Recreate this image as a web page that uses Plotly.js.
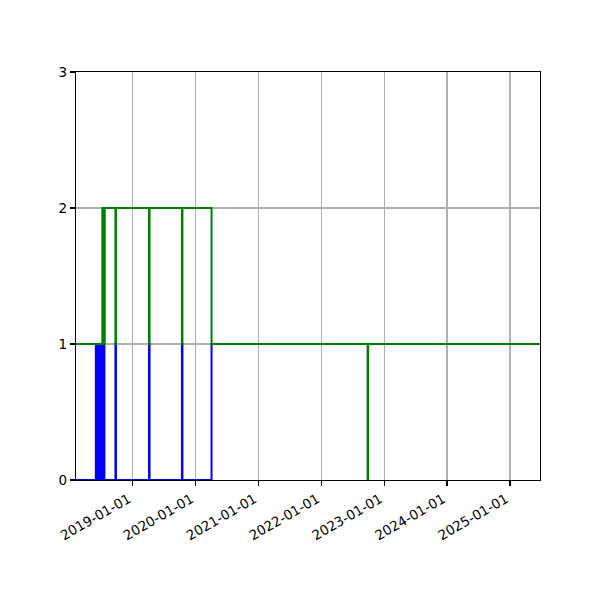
<!DOCTYPE html>
<html>
<head>
<meta charset="utf-8">
<script src="https://cdn.plot.ly/plotly-3.0.1.min.js"></script>
<style>html,body{margin:0;padding:0;background:#fff;}#chart{width:600px;height:600px;}</style>
</head>
<body>
<div id="chart"></div>
<script>
// Blue series (step, post)
const blueDates = [
  "2018-01-01","2018-06-02","2018-06-05","2018-06-11","2018-06-15","2018-06-20",
  "2018-06-24","2018-06-29","2018-07-03","2018-07-08","2018-07-12","2018-07-17",
  "2018-07-22","2018-09-24","2018-09-27","2019-04-07","2019-04-10","2019-10-15",
  "2019-10-18","2020-04-04","2025-12-31"
];
const blueValues = [0,1,0,1,0,1,0,1,0,1,0,1,0,1,0,1,0,1,0,1,1];

// Green series (step, post)
const greenDates = [
  "2018-01-01","2018-07-10","2018-07-21","2018-07-24","2018-09-24","2018-09-27",
  "2019-04-07","2019-04-10","2019-10-15","2019-10-18","2020-04-04","2022-09-27",
  "2022-09-30","2025-12-31"
];
const greenValues = [1,2,1,2,1,2,1,2,1,2,1,0,1,1];

const xTickDates = ["2019-01-01","2020-01-01","2021-01-01","2022-01-01","2023-01-01","2024-01-01","2025-01-01"];
const yTicks = [0,1,2,3];
const xRange = ["2018-02-07","2025-06-24"];
const yRange = [0,3];

const traces = [
  {x: blueDates, y: blueValues, type: "scatter", mode: "lines",
   line: {shape: "hv", color: "#0000ff", width: 2}, hoverinfo: "skip"},
  {x: greenDates, y: greenValues, type: "scatter", mode: "lines",
   line: {shape: "hv", color: "#008000", width: 2}, hoverinfo: "skip"}
];

const axisCommon = {
  showline: true, linecolor: "#000", linewidth: 1.1, mirror: true,
  ticks: "outside", ticklen: 5, tickwidth: 1.1, tickcolor: "#000",
  showgrid: true, gridcolor: "#b0b0b0", gridwidth: 1.1,
  zeroline: false,
  tickfont: {family: "DejaVu Sans", size: 13.5, color: "#000"}
};

const layout = {
  width: 600, height: 600,
  margin: {l: 76, r: 60, t: 72, b: 120},
  paper_bgcolor: "#fff", plot_bgcolor: "#fff",
  showlegend: false,
  xaxis: Object.assign({}, axisCommon, {
    type: "date", range: xRange,
    tickmode: "array", tickvals: xTickDates, ticktext: xTickDates,
    tickangle: -30, ticklabelshift: -4
  }),
  yaxis: Object.assign({}, axisCommon, {
    range: yRange, tickmode: "array", tickvals: yTicks, ticktext: yTicks.map(String)
  })
};

Plotly.newPlot("chart", traces, layout, {staticPlot: true, displayModeBar: false});
</script>
</body>
</html>
